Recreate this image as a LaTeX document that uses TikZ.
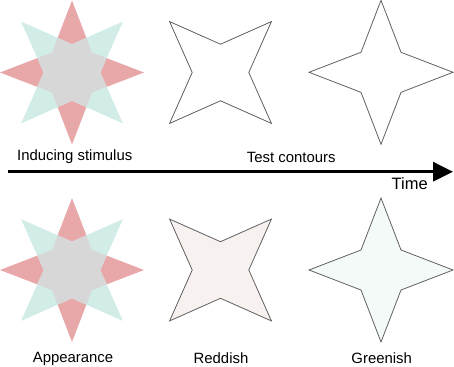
\documentclass[tikz,border=0pt]{standalone}
\usepackage{fontspec}
\setmainfont{Liberation Sans}
\usepackage{tikz}
\usetikzlibrary{arrows.meta}

\definecolor{inducered}{RGB}{232,168,170}
\definecolor{inducegreen}{RGB}{210,236,232}
\definecolor{overlapgray}{RGB}{216,215,215}
\definecolor{reddishfill}{RGB}{247,241,239}
\definecolor{greenishfill}{RGB}{243,250,248}

% four-point star: outer radius 72, inner radius 28.3
\newcommand{\fourstar}{(0:72) -- (45:28.3) -- (90:72) -- (135:28.3) -- (180:72) -- (225:28.3) -- (270:72) -- (315:28.3) -- cycle}

\begin{document}
\begin{tikzpicture}[
        x=1pt, y=-1pt,
        every node/.style={font=\fontsize{14.9}{17}\selectfont, inner sep=0pt},
        contour/.style={draw=black!62, line width=0.8pt},
        >=Stealth
    ]
    \useasboundingbox (0,0) rectangle (454,366);

    % Inducing stimulus (top) and appearance (bottom)
    \foreach \cy in {72.5, 270} {
        \begin{scope}[shift={(72,\cy)}]
            \fill[inducered] \fourstar;
            \fill[inducegreen, rotate=45] \fourstar;
            \begin{scope}
                \clip \fourstar;
                \fill[overlapgray, rotate=45] \fourstar;
            \end{scope}
        \end{scope}
    }

    % Test contours
    \draw[contour, fill=white, shift={(220.5,72.5)}, rotate=45] \fourstar;
    \draw[contour, fill=white, shift={(381,72.3)}] \fourstar;

    % Perceived contours
    \draw[contour, fill=reddishfill, shift={(220.5,270)}, rotate=45] \fourstar;
    \draw[contour, fill=greenishfill, shift={(381,270)}] \fourstar;

    % Time axis
    \coordinate (tstart) at (8,171.7);
    \coordinate (tend) at (453,171.7);
    \draw[line width=3.2pt, -{Triangle[length=20pt, width=19pt]}] (tstart) -- (tend);

    \node[anchor=base west] (induce) at (17,160.7) {Inducing stimulus};
    \node[anchor=base west] (test) at (246.7,162.7) {Test contours};
    \node[anchor=base west, font=\fontsize{16.5}{19}\selectfont] (time) at (391.5,189.3) {Time};

    % Labels
    \node[anchor=base] (appear) at (73,362.5) {Appearance};
    \node[anchor=base] (reddish) at (221,363) {Reddish};
    \node[anchor=base] (greenish) at (381.7,363) {Greenish};

\end{tikzpicture}
\end{document}
